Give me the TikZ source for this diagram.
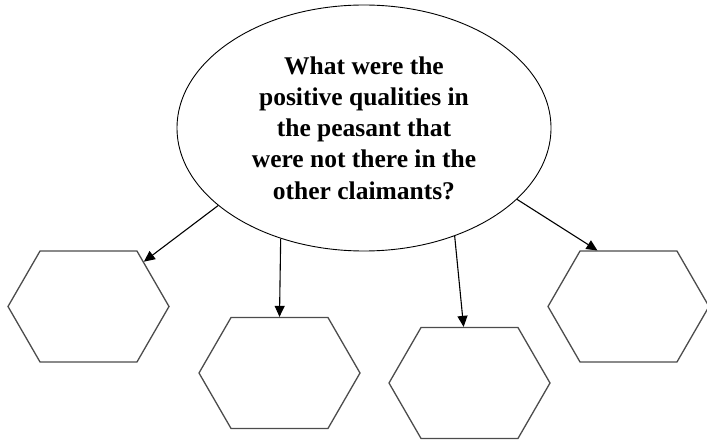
\documentclass[tikz,border=0pt]{standalone}
\usepackage{fontspec}
\setmainfont{Liberation Serif}
\usetikzlibrary{shapes.geometric,shapes.symbols,arrows.meta}
\begin{document}
\begin{tikzpicture}[x=1pt, y=1pt, >={Triangle[length=11pt,width=10pt]},
    question/.style={ellipse, draw, line width=0.9pt, minimum width=374pt, minimum height=246pt,
      inner sep=0pt, align=center, font=\fontsize{25.5}{31.2}\selectfont\bfseries},
    hexbox/.style={signal, signal to=east and west, signal pointer angle=120,
      draw=black!70, line width=1.3pt, minimum width=161pt, minimum height=111pt, inner sep=0pt},
    link/.style={->, line width=1.1pt}]
  \useasboundingbox (0,0) rectangle (707,-441);

  % Central question
  \node[question] (q) at (364,-128) {What were the\\positive qualities in\\the peasant that\\were not there in the\\other claimants?};

  % Answer boxes
  \node[hexbox] (h1) at (88.5,-306.5) {};
  \node[hexbox] (h2) at (279.5,-373) {};
  \node[hexbox] (h3) at (469.5,-383) {};
  \node[hexbox] (h4) at (628.5,-306.5) {};

  % Arrows
  \draw[link] (q.208.8) -- (h1.39);
  \draw[link] (q.233.9) -- (h2.north);
  \draw[link] (q.310.8) -- (h3.96);
  \draw[link] (q.335.2) -- (h4.119);
\end{tikzpicture}
\end{document}
